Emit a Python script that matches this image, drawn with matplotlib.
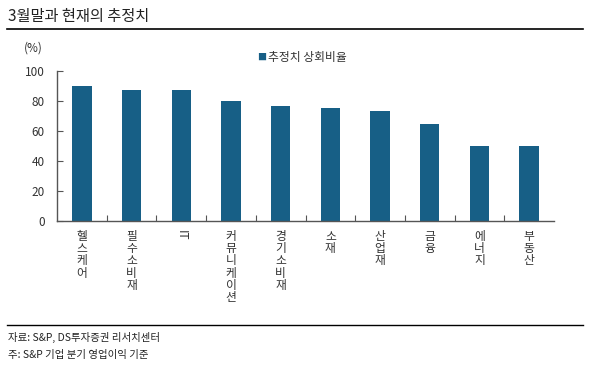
import matplotlib.pyplot as plt
from matplotlib.lines import Line2D

plt.rcParams['font.family'] = ['Noto Sans CJK KR', 'DejaVu Sans']

# data
sectors = ["헬스케어", "필수소비재", "IT", "커뮤니케이션", "경기소비재",
           "소재", "산업재", "금융", "에너지", "부동산"]
ratio = [90, 87.5, 87.5, 80, 77, 75.5, 73.5, 65, 50, 50]
yticks = [0, 20, 40, 60, 80, 100]

bar_color = "#175f86"
axis_color = "#555555"
text_color = "#333333"

fig = plt.figure(figsize=(5.95, 3.79), dpi=100)
W, H = 595, 379
ax = fig.add_axes([57 / W, 1 - 221 / H, 497 / W, 150 / H])

x = range(len(sectors))
ax.bar(x, ratio, width=0.39, color=bar_color, zorder=2)

ax.set_xlim(-0.5, len(sectors) - 0.5)
ax.set_ylim(0, 100)
ax.set_yticks(yticks)
ax.set_yticklabels([str(v) for v in yticks], fontsize=8.5, color=text_color)
ax.tick_params(axis="y", direction="in", length=4, color=axis_color, pad=9)
ax.set_xticks([i + 0.5 for i in range(len(sectors) - 1)])
ax.set_xticklabels([])
ax.tick_params(axis="x", direction="in", length=4, color=axis_color)
for s in ["top", "right"]:
    ax.spines[s].set_visible(False)
for s in ["left", "bottom"]:
    ax.spines[s].set_color(axis_color)
    ax.spines[s].set_linewidth(1.0)

# vertical category labels
for i, name in enumerate(sectors):
    if name.isascii():
        ax.text(i, -6, name, rotation=270, ha="center", va="top",
                fontsize=8.5, color=text_color, clip_on=False)
    else:
        ax.text(i, -6, "\n".join(name), ha="center", va="top",
                fontsize=8.5, color=text_color, linespacing=0.92,
                clip_on=False)

# unit and legend
fig.text(24 / W, 1 - 48 / H, "(%)", fontsize=8.5, color=text_color,
         va="center")
fig.text(262 / W, 1 - 57 / H, "■", fontsize=6.5, color=bar_color,
         va="center", ha="center")
fig.text(268 / W, 1 - 57 / H, "추정치 상회비율", fontsize=8.5,
         color=text_color, va="center")

# title and frame lines
fig.text(8 / W, 1 - 17 / H, "3월말과 현재의 추정치", fontsize=11,
         color="#222222", va="center")
fig.add_artist(Line2D([7 / W, 583 / W], [1 - 29 / H, 1 - 29 / H],
                      color="black", lw=1.2))
fig.add_artist(Line2D([7 / W, 583 / W], [1 - 325 / H, 1 - 325 / H],
                      color="black", lw=1.0))

fig.text(8 / W, 1 - 337 / H, "자료: S&P, DS투자증권 리서치센터", fontsize=7.5,
         color="#222222", va="center")
fig.text(8 / W, 1 - 355 / H, "주: S&P 기업 분기 영업이익 기준", fontsize=7.5,
         color="#222222", va="center")

fig.savefig("out.png", dpi=100)
